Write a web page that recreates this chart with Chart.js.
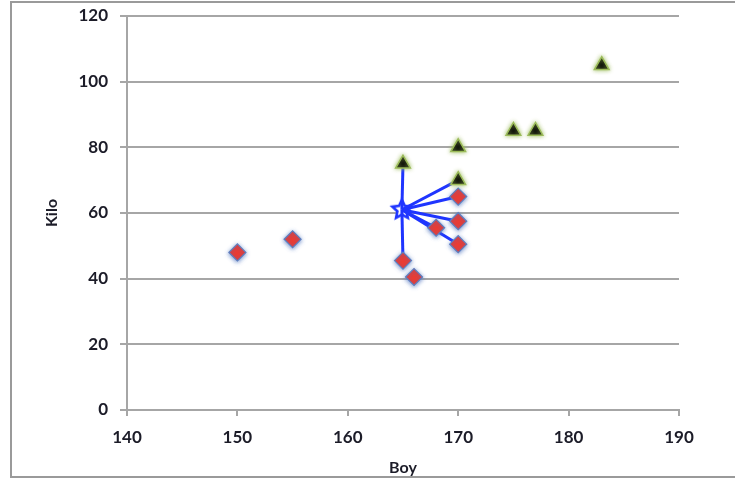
<!DOCTYPE html>
<html>
<head>
<meta charset="utf-8">
<script src="https://cdn.jsdelivr.net/npm/chart.js@4.4.1/dist/chart.umd.min.js"></script>
<style>
  html, body { margin: 0; padding: 0; background: #fff; }
  #wrap { width: 735px; height: 481px; position: relative; }
</style>
</head>
<body>
<div id="wrap"><canvas id="c" width="735" height="481"></canvas></div>
<script>
// Height (Boy, cm) and weight (Kilo) measurements
const diamondBoy  = [150, 155, 165, 166, 168, 170, 170, 170];
const diamondKilo = [48, 52, 45.5, 40.5, 55.5, 65, 57.5, 50.5];

const triangleBoy  = [165, 170, 170, 175, 177, 183];
const triangleKilo = [75, 80, 70, 85, 85, 105];

// Cluster centre and the members it is linked to
const centreBoy  = [164.9];
const centreKilo = [61];
const memberBoy  = [165, 170, 170, 170, 168, 170, 165];
const memberKilo = [75, 70, 65, 57.5, 55.5, 50.5, 45.5];

const xTicks = [140, 150, 160, 170, 180, 190];
const yTicks = [0, 20, 40, 60, 80, 100, 120];

const toPts = (xs, ys) => xs.map((x, i) => ({ x: x, y: ys[i] }));

// Outlined five-point star used as the centre marker
function makeStar() {
  const cv = document.createElement('canvas');
  cv.width = 26; cv.height = 26;
  const g = cv.getContext('2d');
  const cx = 13, cy = 13, ro = 10, ri = 4.8;
  g.beginPath();
  for (let k = 0; k < 10; k++) {
    const r = k % 2 === 0 ? ro : ri;
    const a = -Math.PI / 2 + k * Math.PI / 5;
    const px = cx + r * Math.cos(a), py = cy + r * Math.sin(a);
    if (k === 0) g.moveTo(px, py); else g.lineTo(px, py);
  }
  g.closePath();
  g.fillStyle = '#ffffff';
  g.fill();
  g.lineWidth = 2.6;
  g.strokeStyle = '#1f35ff';
  g.stroke();
  return cv;
}

// One two-point line per member, from the centre outwards
const linkSets = memberBoy.map((b, i) => ({
  type: 'line',
  data: [{ x: centreBoy[0], y: centreKilo[0] }, { x: b, y: memberKilo[i] }],
  borderColor: '#1f35ff',
  borderWidth: 3,
  pointRadius: 0,
  fill: false,
  order: 2,
  glow: null
}));

const glowPlugin = {
  id: 'glow',
  beforeDatasetDraw(chart, args) {
    const ds = chart.data.datasets[args.index];
    chart.ctx.save();
    if (ds.glow) {
      chart.ctx.shadowColor = ds.glow.color;
      chart.ctx.shadowBlur = ds.glow.blur;
      chart.ctx.shadowOffsetX = ds.glow.dx || 0;
      chart.ctx.shadowOffsetY = ds.glow.dy || 0;
    }
  },
  afterDatasetDraw(chart) {
    chart.ctx.restore();
  }
};

const framePlugin = {
  id: 'frame',
  beforeDraw(chart) {
    const ctx = chart.ctx;
    ctx.save();
    ctx.fillStyle = '#ffffff';
    ctx.fillRect(0, 0, chart.width, chart.height);
    ctx.strokeStyle = '#9a9a9a';
    ctx.lineWidth = 2;
    ctx.beginPath();
    ctx.moveTo(745, 2);
    ctx.lineTo(11, 2);
    ctx.lineTo(11, 477);
    ctx.lineTo(745, 477);
    ctx.stroke();
    ctx.restore();
  }
};

const tickFont = { family: 'Lato, "Liberation Sans", sans-serif', size: 17, weight: 'bold' };
const titleFont = { family: 'Lato, "Liberation Sans", sans-serif', size: 16, weight: 'bold' };

new Chart(document.getElementById('c'), {
  type: 'scatter',
  data: {
    datasets: [
      {
        data: toPts(triangleBoy, triangleKilo),
        pointStyle: 'triangle',
        pointRadius: 8.5,
        pointHoverRadius: 8.5,
        backgroundColor: '#000000',
        borderColor: '#9bbb59',
        borderWidth: 1.5,
        order: 0,
        glow: { color: 'rgba(155,187,89,0.9)', blur: 4 }
      },
      {
        data: toPts(diamondBoy, diamondKilo),
        pointStyle: 'rectRot',
        pointRadius: 8.5,
        pointHoverRadius: 8.5,
        backgroundColor: '#ec3b32',
        borderColor: '#5b7fc0',
        borderWidth: 1.2,
        order: 1,
        glow: { color: 'rgba(70,110,190,0.7)', blur: 4, dy: 1 }
      },
      ...linkSets,
      {
        data: toPts(centreBoy, centreKilo),
        pointStyle: makeStar(),
        pointRadius: 12,
        order: 3,
        glow: null
      }
    ]
  },
  options: {
    responsive: false,
    animation: false,
    events: [],
    layout: { padding: { left: 0, right: 56, top: 16, bottom: 0 } },
    plugins: { legend: { display: false }, tooltip: { enabled: false } },
    scales: {
      x: {
        type: 'linear',
        min: 140, max: 190,
        afterBuildTicks(scale) { scale.ticks = xTicks.map(v => ({ value: v })); },
        afterFit(scale) { scale.height = 71; scale.paddingLeft = 0; scale.paddingRight = 0; },
        border: { display: true, color: '#a6a6a6', width: 2 },
        grid: { drawOnChartArea: false, drawTicks: true, tickLength: 6, color: '#a6a6a6', lineWidth: 2 },
        ticks: { color: '#1c1c28', font: tickFont, padding: 11, maxRotation: 0 },
        title: { display: true, text: 'Boy', color: '#1c1c28', font: titleFont, padding: { top: 0, bottom: 4 } }
      },
      y: {
        type: 'linear',
        min: 0, max: 120,
        afterBuildTicks(scale) { scale.ticks = yTicks.map(v => ({ value: v })); },
        afterFit(scale) { scale.width = 127; scale.paddingTop = 0; scale.paddingBottom = 0; },
        border: { display: true, color: '#a6a6a6', width: 2 },
        grid: { drawOnChartArea: true, drawTicks: true, tickLength: 7, color: '#a6a6a6', lineWidth: 2 },
        ticks: { color: '#1c1c28', font: tickFont, padding: 12 },
        title: { display: true, text: 'Kilo', color: '#1c1c28', font: titleFont, padding: { top: 42, bottom: 0 } }
      }
    }
  },
  plugins: [framePlugin, glowPlugin]
});
</script>
</body>
</html>
